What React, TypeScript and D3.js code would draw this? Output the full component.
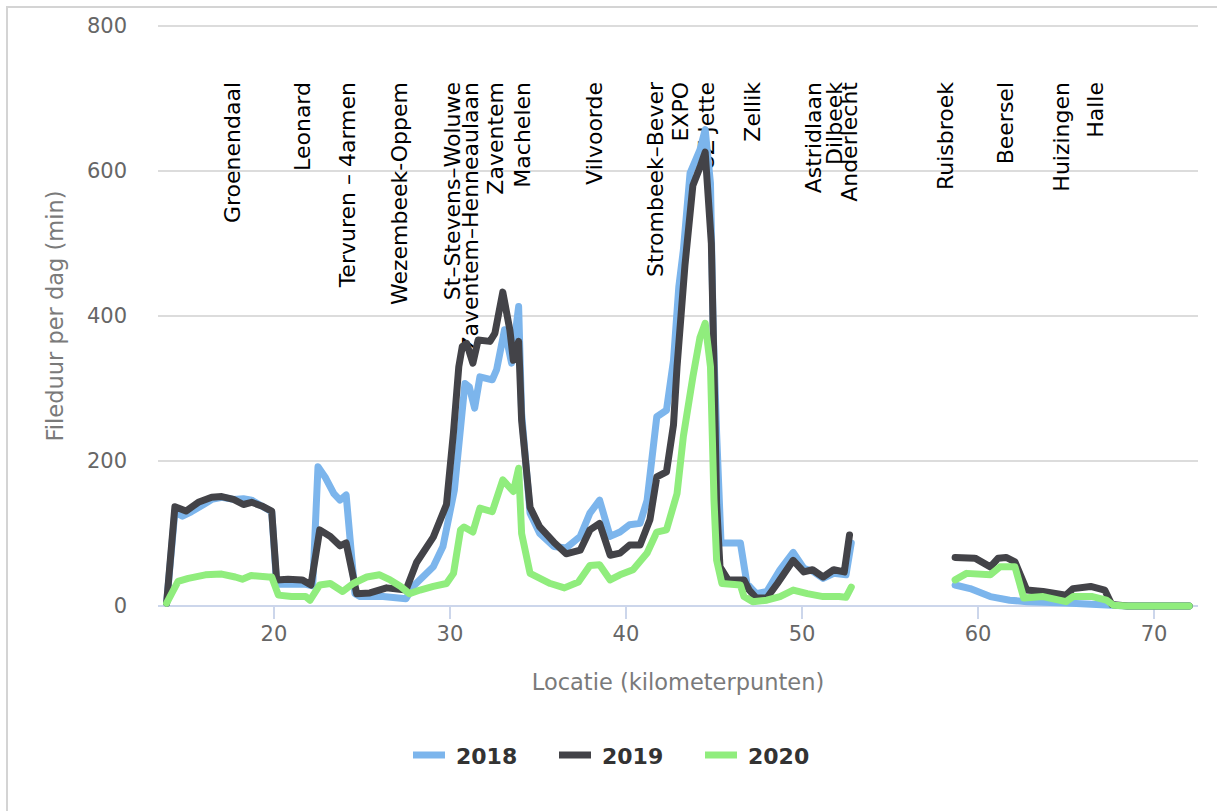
import React from 'react';
import * as d3 from 'd3';

// ---- data ----
const km2018 = [13.9, 14.37, 14.8, 15.3, 16.0, 16.46, 17.03, 17.7, 18.26, 18.73, 19.3, 19.87, 20.15, 21.0, 21.8, 22.2, 22.5, 22.9, 23.4, 23.75, 24.1, 24.6, 24.9, 26.2, 27.5, 27.9, 29.05, 29.6, 30.25, 30.85, 31.1, 31.4, 31.7, 32.4, 32.65, 33.1, 33.5, 33.9, 34.07, 34.55, 35.1, 35.9, 36.6, 37.4, 37.95, 38.5, 39.1, 39.66, 40.2, 40.8, 41.2, 41.75, 42.3, 42.7, 43.0, 43.26, 43.64, 44.2, 44.5, 44.8, 44.96, 45.15, 45.4, 46.5, 46.87, 47.4, 48.0, 48.75, 49.5, 50.1, 50.6, 51.2, 51.8, 52.5, 52.8, 55.5, 58.7, 59.55, 60.7, 61.8, 62.8, 65.0, 67.6, 68.5, 72.0];
const fd2018 = [4, 130, 124, 130, 140, 147, 150, 147, 148, 146, 138, 130, 30, 30, 30, 28, 192, 178, 155, 146, 153, 17, 13, 13, 10, 27, 54, 82, 160, 307, 302, 273, 316, 312, 326, 381, 335, 413, 266, 128, 100, 82, 80, 96, 128, 146, 96, 102, 112, 114, 146, 261, 270, 339, 440, 491, 597, 629, 657, 583, 376, 238, 87, 87, 31, 17, 20, 50, 74, 52, 48, 38, 45, 43, 87, null, 29, 24, 13, 8, 6, 4, 1, 0, 0];

const km2019 = [13.9, 14.37, 15.0, 15.7, 16.46, 17.03, 17.7, 18.26, 18.73, 19.3, 19.87, 20.15, 20.8, 21.6, 22.1, 22.6, 23.2, 23.75, 24.1, 24.7, 25.45, 26.4, 27.5, 28.1, 29.05, 29.8, 30.2, 30.5, 30.7, 30.95, 31.3, 31.6, 32.27, 32.55, 33.0, 33.4, 33.6, 33.9, 34.07, 34.55, 35.1, 35.9, 36.6, 37.4, 37.95, 38.5, 39.1, 39.66, 40.2, 40.8, 41.36, 41.75, 42.3, 42.7, 42.9, 43.35, 43.8, 44.2, 44.5, 44.85, 45.0, 45.15, 45.34, 45.8, 46.7, 47.0, 47.4, 48.0, 48.6, 49.5, 50.1, 50.6, 51.2, 51.8, 52.4, 52.7, 55.5, 58.7, 59.83, 60.7, 61.15, 61.6, 62.1, 62.77, 63.7, 65.0, 65.4, 66.4, 67.2, 67.6, 68.5, 72.0];
const fd2019 = [4, 137, 131, 143, 150, 151, 147, 140, 143, 138, 131, 36, 37, 36, 29, 105, 96, 83, 87, 17, 18, 25, 22, 60, 95, 140, 240, 330, 358, 362, 335, 367, 365, 376, 433, 381, 339, 365, 256, 136, 109, 88, 72, 77, 105, 114, 70, 73, 84, 84, 119, 178, 185, 250, 330, 470, 580, 605, 626, 500, 330, 140, 54, 36, 36, 22, 11, 11, 31, 63, 47, 50, 40, 50, 47, 98, null, 67, 66, 54, 66, 67, 61, 22, 20, 15, 24, 27, 22, 2, 0, 0];

const km2020 = [13.9, 14.55, 15.13, 16.1, 17.03, 17.8, 18.2, 18.7, 19.7, 19.87, 20.25, 21.0, 21.8, 22.05, 22.6, 23.2, 23.9, 24.5, 25.27, 26.0, 26.6, 27.2, 27.7, 28.3, 29.05, 29.8, 30.2, 30.6, 30.8, 31.3, 31.7, 32.4, 33.0, 33.6, 33.9, 34.07, 34.55, 35.7, 36.5, 37.3, 37.95, 38.5, 39.1, 39.66, 40.4, 41.2, 41.75, 42.3, 42.9, 43.26, 43.8, 44.2, 44.5, 44.8, 45.0, 45.15, 45.45, 46.5, 46.7, 47.2, 48.0, 48.75, 49.5, 50.3, 51.2, 52.1, 52.5, 52.8, 55.5, 58.7, 59.35, 60.7, 61.25, 62.1, 62.6, 63.7, 65.0, 65.4, 66.5, 67.3, 67.7, 68.5, 72.0];
const fd2020 = [4, 34, 38, 43, 44, 40, 37, 42, 40, 40, 15, 13, 13, 8, 29, 31, 20, 31, 40, 43, 36, 27, 17, 22, 27, 31, 45, 105, 109, 102, 135, 130, 174, 158, 190, 100, 45, 31, 25, 33, 56, 57, 36, 43, 50, 73, 102, 105, 155, 234, 316, 370, 390, 330, 146, 63, 31, 29, 13, 6, 8, 13, 22, 17, 13, 13, 12, 26, null, 36, 45, 43, 54, 54, 11, 13, 6, 13, 13, 8, 1, 0, 0];

const seriesNames = ['2018', '2019', '2020'];
const seriesColors = ['#7cb5ec', '#434348', '#90ed7d'];

const labelNames = ['Groenendaal', 'Leonard', 'Tervuren – 4armen', 'Wezembeek-Oppem', 'St–Stevens–Woluwe', 'Zaventem–Henneaulaan', 'Zaventem', 'Machelen', 'Vilvoorde', 'Strombeek–Bever', 'EXPO', 'UZ Jette', 'Zellik', 'Astridlaan', 'Dilbeek', 'Anderlecht', 'Ruisbroek', 'Beersel', 'Huizingen', 'Halle'];
const labelKm = [18.07, 22.05, 24.6, 27.56, 30.57, 31.6, 33.0, 34.55, 38.64, 42.1, 43.52, 45.0, 47.6, 51.08, 52.27, 53.1, 58.6, 61.99, 65.17, 67.1];

const yTicks = [0, 200, 400, 600, 800];
const xTicks = [20, 30, 40, 50, 60, 70];

const FONT = '"DejaVu Sans", Verdana, sans-serif';

export default function App() {
  const W = 1217;
  const H = 811;
  const x = d3.scaleLinear().domain([13.41, 72.5]).range([158, 1198]);
  const y = d3.scaleLinear().domain([0, 800]).range([606, 26]);

  const kms = [km2018, km2019, km2020];
  const vals = [fd2018, fd2019, fd2020];

  const line = d3
    .line<[number, number | null]>()
    .defined((d) => d[1] != null)
    .x((d) => x(d[0]))
    .y((d) => y(d[1] as number));

  const legendX = [413, 559, 705];

  return (
    <svg
      width={W}
      height={H}
      style={{ position: 'absolute', left: 0, top: 0, background: '#fff' }}
      fontFamily={FONT}
    >
      <rect x={7} y={7} width={1240} height={840} fill="#fff" stroke="#d4d4d4" strokeWidth={2} />

      {/* grid */}
      {yTicks.filter((t) => t > 0).map((t) => (
        <line key={t} x1={158} x2={1198} y1={y(t)} y2={y(t)} stroke="#dcdcdc" strokeWidth={2} />
      ))}

      {/* y tick labels */}
      {yTicks.map((t) => (
        <text key={t} x={127} y={y(t) + 7} textAnchor="end" fontSize={21} fill="#666">
          {t}
        </text>
      ))}

      {/* y title */}
      <text transform={`translate(63, 316) rotate(-90)`} textAnchor="middle" fontSize={22.5} fill="#7a7a7a">
        Fileduur per dag (min)
      </text>

      {/* location labels (drawn below series) */}
      {labelNames.map((n, i) => (
        <text
          key={n}
          transform={`translate(${x(labelKm[i])}, 82) rotate(-90)`}
          textAnchor="end"
          fontSize={22}
          fill="#000"
        >
          {n}
        </text>
      ))}

      {/* x axis */}
      <line x1={158} x2={1198} y1={606} y2={606} stroke="#ccd6eb" strokeWidth={2} />
      {xTicks.map((t) => (
        <g key={t}>
          <line x1={x(t)} x2={x(t)} y1={606} y2={619} stroke="#ccd6eb" strokeWidth={2} />
          <text x={x(t)} y={641} textAnchor="middle" fontSize={21} fill="#666">
            {t}
          </text>
        </g>
      ))}
      <text x={678} y={690} textAnchor="middle" fontSize={22.5} fill="#7a7a7a">
        Locatie (kilometerpunten)
      </text>

      {/* series */}
      {seriesNames.map((s, i) => {
        const pts: [number, number | null][] = kms[i].map((k, j) => [k, vals[i][j]]);
        return (
          <path
            key={s}
            d={line(pts) || ''}
            fill="none"
            stroke={seriesColors[i]}
            strokeWidth={7}
            strokeLinejoin="round"
            strokeLinecap="round"
          />
        );
      })}

      {/* legend */}
      {seriesNames.map((s, i) => (
        <g key={s}>
          <line x1={legendX[i]} x2={legendX[i] + 32} y1={755} y2={755} stroke={seriesColors[i]} strokeWidth={7} />
          <text x={legendX[i] + 43} y={764} fontSize={22} fontWeight="bold" fill="#333">
            {s}
          </text>
        </g>
      ))}
    </svg>
  );
}
